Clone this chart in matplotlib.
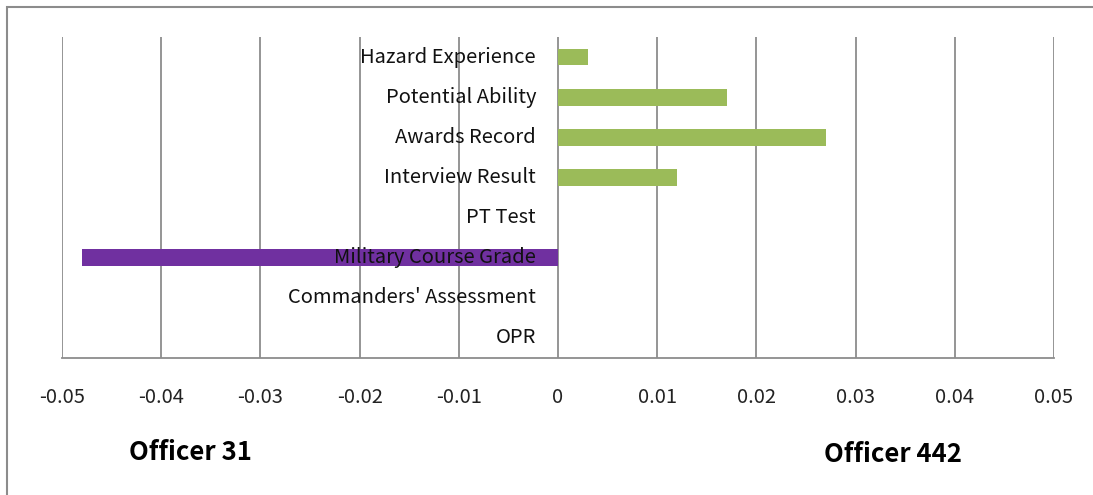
import numpy as np
import matplotlib.pyplot as plt
from matplotlib.patches import Rectangle
from matplotlib.transforms import offset_copy

categories = ["Hazard Experience", "Potential Ability", "Awards Record", "Interview Result",
              "PT Test", "Military Course Grade", "Commanders' Assessment", "OPR"]
values = [0.003, 0.017, 0.027, 0.012, 0.0, -0.048, 0.0, 0.0]
xticks = [-0.05, -0.04, -0.03, -0.02, -0.01, 0, 0.01, 0.02, 0.03, 0.04, 0.05]
xtick_labels = ["-0.05", "-0.04", "-0.03", "-0.02", "-0.01", "0",
                "0.01", "0.02", "0.03", "0.04", "0.05"]
left_name = "Officer 31"
right_name = "Officer 442"

plt.rcParams['font.family'] = ['Noto Sans CJK KR', 'DejaVu Sans']

fig = plt.figure(figsize=(10.93, 4.95), dpi=100)
ax = fig.add_axes([62 / 1093, 1 - 358 / 495, 992 / 1093, 321 / 495])

grid_col = '#8c8c8c'
y = np.arange(len(categories))
colors = ['#9bbb59' if v >= 0 else '#7030a0' for v in values]
ax.barh(y, values, height=0.42, color=colors, zorder=2)

ax.set_xlim(-0.05, 0.05)
ax.set_ylim(len(categories) - 0.5, -0.5)
ax.set_xticks(xticks)
ax.set_xticklabels(xtick_labels, fontsize=14.5, color='#222222')
ax.tick_params(axis='x', length=0, pad=21)
ax.set_yticks([])
for xv in xticks:
    ax.axvline(xv, color=grid_col, lw=1.3, zorder=1)
for s in ['top', 'left', 'right']:
    ax.spines[s].set_visible(False)
ax.spines['bottom'].set_color(grid_col)
ax.spines['bottom'].set_linewidth(1.3)

# category labels sit just left of zero
trans = offset_copy(ax.transData, fig=fig, x=-22, y=0, units='dots')
for yi, lab in zip(y, categories):
    ax.text(0, yi, lab, transform=trans, ha='right', va='center',
            fontsize=14.5, color='#111111', zorder=3)

fig.text(190 / 1093, 1 - 453 / 495, left_name, ha='center', va='center',
         fontsize=18.5, fontweight='bold')
fig.text(893 / 1093, 1 - 455 / 495, right_name, ha='center', va='center',
         fontsize=18.5, fontweight='bold')

# outer chart frame
fig.patches.append(Rectangle((7 / 1093, -0.1), 1.2, 1 - 7 / 495 + 0.1,
                             transform=fig.transFigure, fill=False,
                             edgecolor='#8c8c8c', lw=1.5))

fig.savefig('out.png', dpi=100)
